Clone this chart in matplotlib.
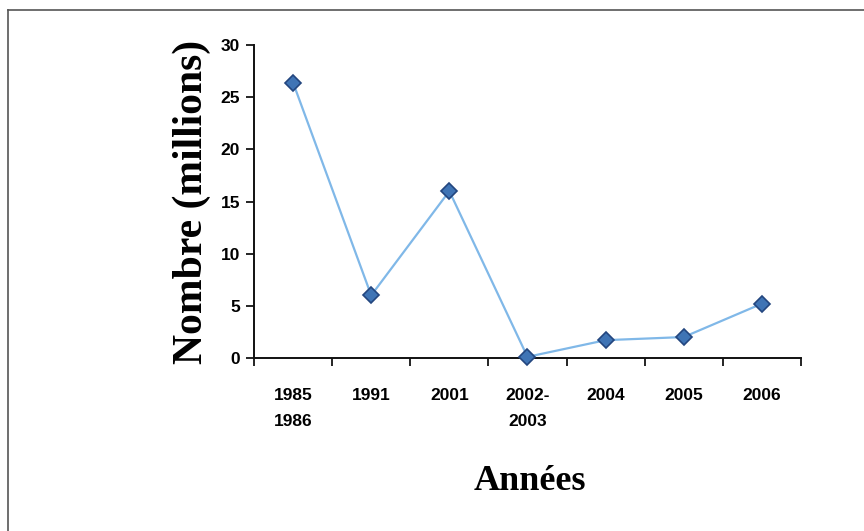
import matplotlib
matplotlib.use("Agg")
import matplotlib.pyplot as plt
from matplotlib.lines import Line2D

# Data
categories = ["1985\n1986", "1991", "2001", "2002-\n2003", "2004", "2005", "2006"]
values = [26.4, 6.0, 16.0, 0.1, 1.7, 2.0, 5.2]
y_ticks = [0, 5, 10, 15, 20, 25, 30]

fig = plt.figure(figsize=(8.64, 5.31), dpi=100)
fig.patch.set_facecolor("white")

ax = fig.add_axes([0.294, 0.326, 0.633, 0.589])
x = list(range(len(categories)))
ax.plot(x, values, color="#80B8E8", linewidth=1.6, zorder=2)
ax.plot(x, values, linestyle="none", marker="D", markersize=8.5,
        markerfacecolor="#3F74B5", markeredgecolor="#23467F",
        markeredgewidth=1.2, zorder=3, clip_on=False)

ax.set_xlim(-0.5, len(categories) - 0.5)
ax.set_ylim(0, 30)
ax.set_yticks(y_ticks)
ax.set_yticklabels([str(t) for t in y_ticks], fontfamily="Liberation Sans",
                   fontweight="bold", fontsize=12.5)

# Category labels sit between boundary ticks
ax.set_xticks(x)
ax.set_xticklabels(categories, fontfamily="Liberation Sans",
                   fontweight="bold", fontsize=12.5, linespacing=1.9)
ax.tick_params(axis="x", which="major", length=0, pad=22)
ax.set_xticks([i + 0.5 for i in range(-1, len(categories))], minor=True)
ax.tick_params(axis="x", which="minor", length=6, width=1.2, direction="out")
ax.tick_params(axis="y", length=6, width=1.2, direction="out", pad=4)

for side in ("top", "right"):
    ax.spines[side].set_visible(False)
for side in ("left", "bottom"):
    ax.spines[side].set_linewidth(1.4)
    ax.spines[side].set_color("#111111")

fig.text(192 / 864, 1 - 202 / 531, "Nombre (millions)", rotation=90,
         ha="center", va="center", fontfamily="Liberation Serif",
         fontweight="bold", fontsize=30)
fig.text(530 / 864, 1 - 481 / 531, "Années", ha="center", va="center",
         fontfamily="Liberation Serif", fontweight="bold", fontsize=26)

# Outer frame (top and left edges)
fig.add_artist(Line2D([8 / 864, 8 / 864], [0, 1 - 10 / 531],
                      transform=fig.transFigure, color="#555555", linewidth=1.2))
fig.add_artist(Line2D([8 / 864, 1], [1 - 10 / 531, 1 - 10 / 531],
                      transform=fig.transFigure, color="#555555", linewidth=1.2))

fig.savefig("out.png", dpi=100, facecolor="white")
